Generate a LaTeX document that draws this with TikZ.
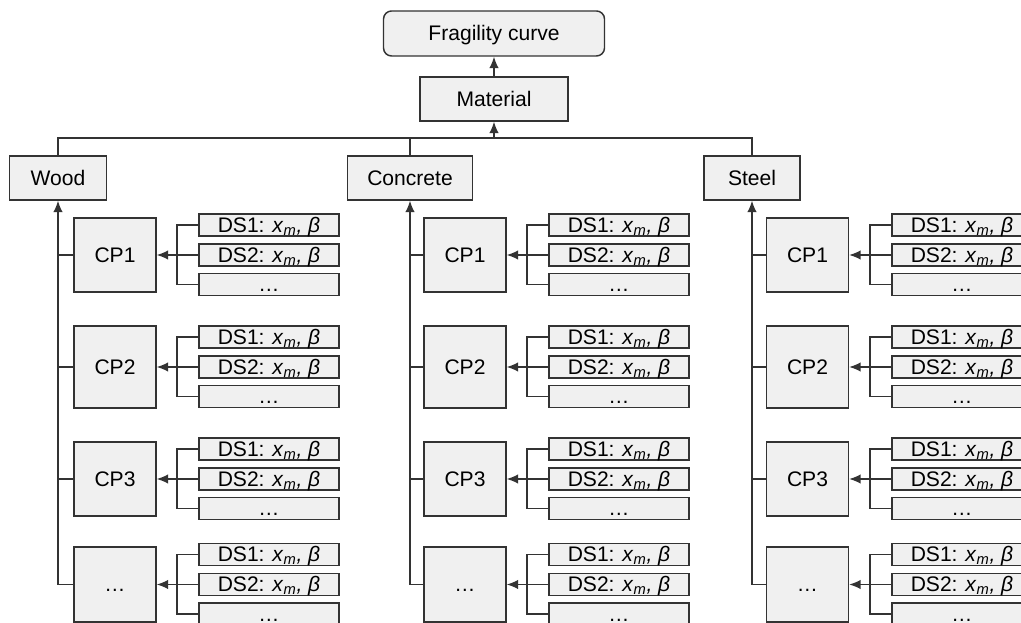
\documentclass[tikz,border=0pt]{standalone}
\usepackage{fontspec}
\setmainfont{Liberation Sans}
\usetikzlibrary{arrows.meta}
\definecolor{boxfill}{HTML}{F0F0F0}
\definecolor{ink}{HTML}{333333}
% damage-state parameters
\newcommand\xmbeta{\textit{x}\textsubscript{\textit{m}}\textit{, β}}

\begin{document}
\begin{tikzpicture}[x=0.75pt,y=-0.75pt,
  box/.style={draw=ink,fill=boxfill,line width=1.1pt,inner sep=0pt,
    text height=11pt,text depth=0pt,font=\fontsize{15.8}{18}\selectfont},
  conn/.style={draw=ink,line width=0.95pt},
  arr/.style={conn,-{Latex[length=8.5pt,width=7pt]}}]
\useasboundingbox (0,0) rectangle (1021,623);
\clip (0,0) rectangle (1021,623);

% top of the hierarchy
\node[box,rounded corners=6pt,minimum width=221*0.75pt,minimum height=45*0.75pt] (frag) at (494,33.5) {Fragility curve};
\node[box,minimum width=148*0.75pt,minimum height=44*0.75pt] (mat) at (494,99) {Material};
\coordinate (bus) at (494,138);
\draw[arr] (mat) -- (frag);

% materials
\node[box,minimum width=97*0.75pt,minimum height=44*0.75pt] (wmat) at (58,178) {Wood};
\node[box,minimum width=125*0.75pt,minimum height=44*0.75pt] (cmat) at (410,178) {Concrete};
\node[box,minimum width=96*0.75pt,minimum height=44*0.75pt] (smat) at (752,178) {Steel};
\draw[conn] (wmat.north) |- (bus) -| (smat.north);
\draw[conn] (cmat.north) -- (cmat.north |- bus);
\draw[arr] (bus) -- (mat.south);

% components and damage states for each material
\foreach \col/\cx/\dx/\bx in {w/115/269/177, c/465/619/527, s/807.5/962/870} {
  \foreach \row/\cy/\h/\lab in {1/255/74/CP1, 2/367/82/CP2, 3/479/74/CP3, 4/584.5/75/\ldots} {
    \node[box,minimum width=82*0.75pt,minimum height=\h*0.75pt] (\col cp\row) at (\cx,\cy) {\lab};
    \node[box,minimum width=140*0.75pt,minimum height=22*0.75pt] (\col ds\row a) at (\dx,\cy-30) {DS1: \xmbeta};
    \node[box,minimum width=140*0.75pt,minimum height=22*0.75pt] (\col ds\row b) at (\dx,\cy) {DS2: \xmbeta};
    \node[box,minimum width=140*0.75pt,minimum height=22*0.75pt] (\col ds\row c) at (\dx,\cy+29.5) {\ldots};
    \coordinate (\col br\row) at (\bx,\cy);
    \draw[arr] (\col ds\row b.west) -- (\col cp\row.east);
    \draw[conn] (\col ds\row a.west) -| (\col br\row) |- (\col ds\row c.west);
    \draw[conn] (\col cp\row.west) -- (\col cp\row.west -| \col mat.south);
  }
  \draw[arr] (\col mat.south |- \col cp4.west) -- (\col mat.south);
}
\end{tikzpicture}
\end{document}
